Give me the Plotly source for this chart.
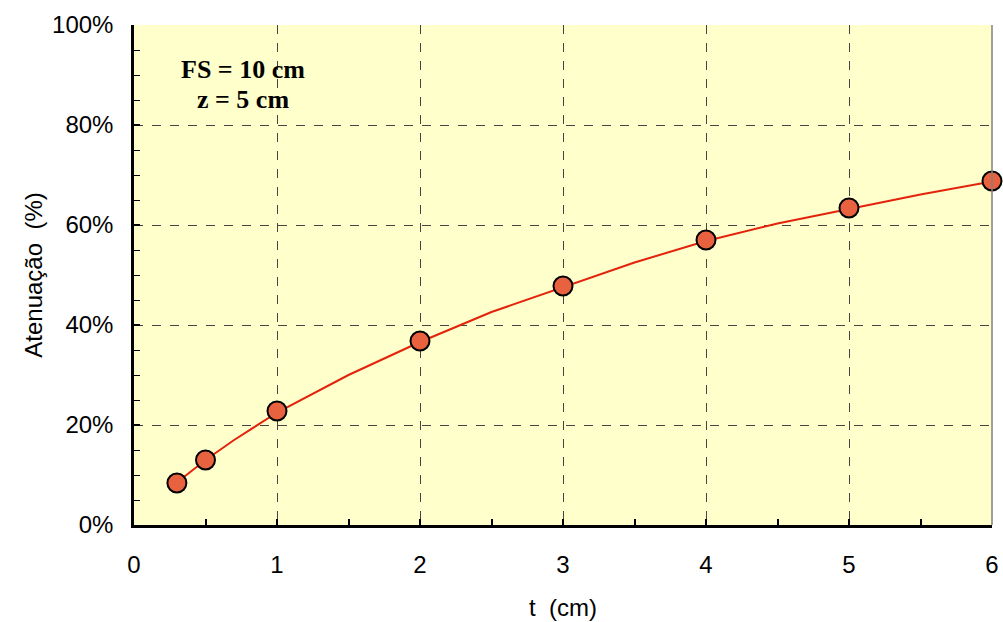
import plotly.graph_objects as go

t_points = [0.3, 0.5, 1, 2, 3, 4, 5, 6]
atten_points = [0.084, 0.130, 0.228, 0.368, 0.478, 0.570, 0.634, 0.688]

t_fit = [0.3, 0.5, 0.7, 1.0, 1.5, 2.0, 2.5, 3.0, 3.5, 4.0, 4.5, 5.0, 5.5, 6.0]
atten_fit = [0.085, 0.130, 0.170, 0.225, 0.300, 0.366, 0.426, 0.476, 0.525, 0.568, 0.603, 0.632, 0.661, 0.687]

x_ticks = [0, 1, 2, 3, 4, 5, 6]
y_ticks = [0, 0.2, 0.4, 0.6, 0.8, 1.0]

fig = go.Figure()
fig.add_trace(go.Scatter(x=t_fit, y=atten_fit, mode="lines",
                         line=dict(color="#E3230B", width=2), showlegend=False, hoverinfo="skip"))
fig.add_trace(go.Scatter(x=t_points, y=atten_points, mode="markers",
                         marker=dict(size=19, color="#E9623F", line=dict(color="black", width=2)),
                         showlegend=False, cliponaxis=False))

ann_font = dict(family="Liberation Serif, Times New Roman, serif", size=26, color="black")
fig.add_annotation(x=0.127, y=0.91, xref="paper", yref="paper", showarrow=False,
                   xanchor="center", yanchor="middle", text="<b>FS = 10 cm</b>", font=ann_font)
fig.add_annotation(x=0.127, y=0.852, xref="paper", yref="paper", showarrow=False,
                   xanchor="center", yanchor="middle", text="<b>z = 5 cm</b>", font=ann_font)

# right border (solid grey) of plot frame
fig.add_shape(type="line", xref="paper", yref="paper", x0=1, x1=1, y0=0, y1=1,
              line=dict(color="#808080", width=1.5))

fig.update_layout(
    width=1003, height=622,
    margin=dict(l=134, r=11, t=25, b=97),
    paper_bgcolor="white",
    plot_bgcolor="#FFFFCC",
    font=dict(family="Liberation Sans, Arial, sans-serif", size=24, color="black"),
    xaxis=dict(range=[0, 6], tickvals=x_ticks, ticktext=[str(v) for v in x_ticks],
               automargin=False,
               showgrid=True, gridcolor="#444444", griddash="dash", gridwidth=1,
               showline=True, linecolor="black", linewidth=2.5, zeroline=False,
               ticks="inside", ticklen=6, tickwidth=2, tickcolor="black",
               minor=dict(dtick=0.5, ticks="inside", ticklen=6, tickwidth=1.5, tickcolor="black", showgrid=False),
               title=dict(text="t\u00a0\u00a0(cm)", font=dict(size=24), standoff=23),
               ticklabelstandoff=16),
    yaxis=dict(range=[0, 1], tickvals=y_ticks, tickformat=".0%",
               automargin=False,
               showgrid=True, gridcolor="#444444", griddash="dash", gridwidth=1,
               showline=True, linecolor="black", linewidth=2.5, zeroline=False,
               ticks="inside", ticklen=6, tickwidth=1.5, tickcolor="black",
               minor=dict(dtick=0.05, ticks="inside", ticklen=6, tickwidth=1, tickcolor="black", showgrid=False),
               title=dict(text="Atenuação\u00a0\u00a0(%)", font=dict(size=24), standoff=3),
               ticklabelstandoff=13),
)

fig.write_html("out.html", config={"displayModeBar": False},
               post_script="document.body.style.margin='0';document.body.style.overflow='hidden';")
